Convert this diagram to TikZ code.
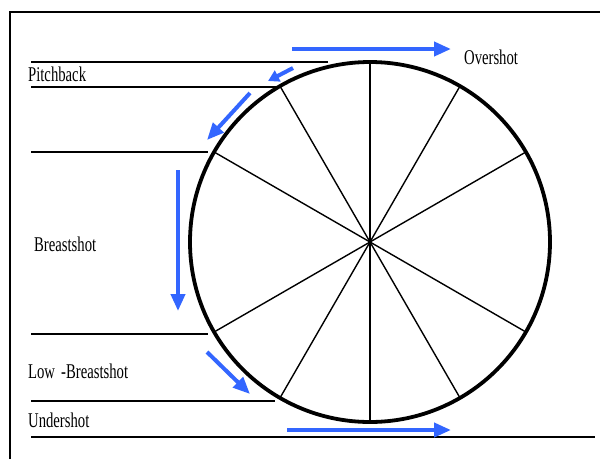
\documentclass[tikz,border=0pt]{standalone}
\usepackage{fontspec}
\setmainfont{Liberation Serif}
\usetikzlibrary{arrows.meta,calc}
\definecolor{arrowblue}{RGB}{51,102,255}
\tikzset{
  lbl/.style={anchor=base west, inner sep=0pt, font=\fontsize{21}{21}\selectfont, xscale=0.7},
  guide/.style={line width=1.6pt, black},
  spoke/.style={line width=1.4pt, black},
  rim/.style={line width=3.8pt, black},
  flow/.style={line width=4pt, arrowblue, -{Triangle[length=17pt,width=14pt]}},
}
\begin{document}
\begin{tikzpicture}[x=1pt,y=-1pt]
\useasboundingbox (0,0) rectangle (600,459);
% frame
\draw[line width=1.6pt] (10,459) -- (10,12) -- (600,12);
% wheel
\coordinate (c) at (370,242);
\draw[rim] (c) circle[radius=180];
\foreach \a in {30,60,90,120,150,210,240,270,300,330}{
  \draw[spoke] (c) -- ($(c)+(\a:180)$);
}
% guide lines
\coordinate (g1a) at (31,62);  \coordinate (g1b) at (328,62);
\coordinate (g2a) at (31,87);  \coordinate (g2b) at (277,87);
\coordinate (g3a) at (31,152); \coordinate (g3b) at (208,152);
\coordinate (g4a) at (31,334); \coordinate (g4b) at (208,334);
\coordinate (g5a) at (31,401); \coordinate (g5b) at (275,401);
\coordinate (g6a) at (31,437); \coordinate (g6b) at (595,437);
\foreach \i in {1,...,6}{\draw[guide] (g\i a) -- (g\i b);}
% labels
\node[lbl] (over) at (464,64) {Overshot};
\node[lbl] (pitch) at (28,81) {Pitchback};
\node[lbl] (breast) at (34,251) {Breastshot};
\node[lbl] (low) at (28,378) {Low \,-Breastshot};
\node[lbl] (under) at (28,427) {Undershot};
% arrows
\coordinate (a1s) at (292,49);  \coordinate (a1e) at (451,49);
\coordinate (a2s) at (293,68);  \coordinate (a2e) at (268,81);
\coordinate (a3s) at (250,93);  \coordinate (a3e) at (207,140);
\coordinate (a4s) at (178,170); \coordinate (a4e) at (178,311);
\coordinate (a5s) at (207,352); \coordinate (a5e) at (250,394);
\coordinate (a6s) at (287,430); \coordinate (a6e) at (451,430);
\draw[flow] (a1s) -- (a1e);
\draw[flow, -{Triangle[length=11pt,width=12pt]}] (a2s) -- (a2e);
\draw[flow] (a3s) -- (a3e);
\draw[flow] (a4s) -- (a4e);
\draw[flow] (a5s) -- (a5e);
\draw[flow] (a6s) -- (a6e);
\end{tikzpicture}
\end{document}
